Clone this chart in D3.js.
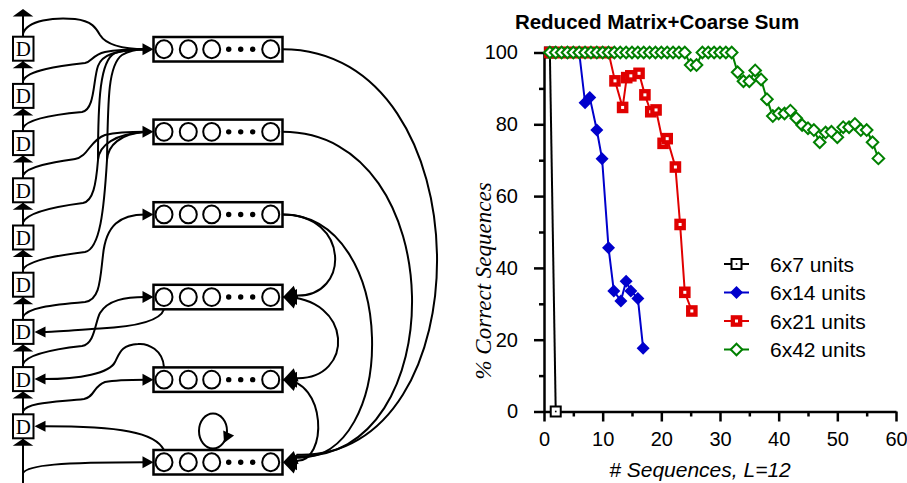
<!DOCTYPE html>
<html><head><meta charset="utf-8">
<script src="https://cdn.jsdelivr.net/npm/d3@7"></script>
<style>body{margin:0;background:#fff}svg{display:block}</style>
</head><body>
<svg id="c" width="907" height="483"></svg>
<script>
// ---------------- DATA ----------------
const chartTitle = "Reduced Matrix+Coarse Sum";
const seriesNames = ["6x7 units", "6x14 units", "6x21 units", "6x42 units"];
const xTicks = [0, 10, 20, 30, 40, 50, 60];
const yTicks = [0, 20, 40, 60, 80, 100];
const x7 = [1, 2];
const y7 = [100, 0];
const x14 = [1, 2, 3, 4, 5, 6, 7, 7.8, 9, 9.9, 11, 11.9, 13.1, 14, 14.8, 16, 16.9];
const y14 = [100, 100, 100, 100, 100, 100, 86, 87.5, 78.4, 70.4, 45.6, 33.6, 30.8, 36.3, 33.6, 31.5, 17.6];
const x21 = [1, 2, 3, 4, 5, 6, 7, 8, 9, 10, 11, 12.1, 13.4, 14.1, 14.8, 16.2, 17.2, 18.2, 19.1, 20.3, 21, 22.4, 23.2, 24, 25.2];
const y21 = [100, 100, 100, 100, 100, 100, 100, 100, 100, 100, 100, 92.1, 84.7, 93, 93.5, 94.2, 88.2, 83.5, 84, 74.7, 76, 68.1, 52.1, 33.2, 28];
const x42 = [1, 2, 3, 4, 5, 6, 7, 8, 9, 10, 11, 12, 13, 14, 15, 16, 17, 18, 19, 20, 21, 22, 23, 24, 25, 26, 27, 28, 29, 30,
             31, 32, 33, 34, 35, 36, 37, 38, 39, 40, 41, 42, 43, 44, 45, 46, 47, 48, 49, 50, 51, 52, 53, 54, 55, 56, 57];
const y42 = [100, 100, 100, 100, 100, 100, 100, 100, 100, 100, 100, 100, 100, 100, 100, 100, 100, 100, 100, 100, 100, 100, 100, 100,
             96.5, 96.5, 100, 100, 100, 100, 100, 100,
             94.5, 92, 92, 95, 92.5, 87, 82.3, 83, 83, 83.8, 81.7, 79.8, 78.9, 78.4, 75, 77.7, 77.9, 76.4, 79.2, 79.2, 80.1, 78.4, 78.4, 75, 70.5];

// --------------- CHART ----------------
const svg = d3.select("#c");
const x = d3.scaleLinear().domain([0, 60]).range([544, 896]);
const y = d3.scaleLinear().domain([0, 100]).range([411.5, 52.5]);
const SANS = "'Liberation Sans', Arial, Helvetica, sans-serif";
const SERIF = "'Liberation Serif', 'Times New Roman', Times, serif";

const chart = svg.append("g");
const minorX = d3.range(5, 60, 10), minorY = d3.range(10, 100, 20);

function styleAxis(g) {
  g.selectAll("path.domain").attr("stroke", "#000").attr("stroke-width", 2.5);
  g.selectAll(".tick line").attr("stroke", "#000").attr("stroke-width", 2.5);
  g.selectAll(".tick text").attr("font-family", SANS).attr("font-size", 20).attr("fill", "#000");
}
const gxm = chart.append("g").attr("transform", `translate(0,${y(0)})`)
  .call(d3.axisBottom(x).tickValues(minorX).tickSize(5).tickFormat(""));
gxm.select(".domain").remove(); styleAxis(gxm);
const gym = chart.append("g").attr("transform", `translate(${x(0)},0)`)
  .call(d3.axisLeft(y).tickValues(minorY).tickSize(5).tickFormat(""));
gym.select(".domain").remove(); styleAxis(gym);
const gx = chart.append("g").attr("transform", `translate(0,${y(0)})`)
  .call(d3.axisBottom(x).tickValues(xTicks).tickSize(10).tickSizeOuter(0).tickPadding(10));
styleAxis(gx);
const gy = chart.append("g").attr("transform", `translate(${x(0)},0)`)
  .call(d3.axisLeft(y).tickValues(yTicks).tickSize(10).tickSizeOuter(0).tickPadding(16));
styleAxis(gy);

chart.append("text").attr("x", 657).attr("y", 29).attr("text-anchor", "middle")
  .attr("font-family", SANS).attr("font-weight", "bold").attr("font-size", 20.5).text(chartTitle);
chart.append("text").attr("x", 700).attr("y", 477).attr("text-anchor", "middle")
  .attr("font-family", SANS).attr("font-style", "italic").attr("font-size", 21).text("# Sequences, L=12");
chart.append("text").attr("transform", "translate(491,281) rotate(-90)").attr("text-anchor", "middle")
  .attr("font-family", SERIF).attr("font-style", "italic").attr("font-size", 23).text("% Correct Sequences");

const colors = ["#000000", "#0000cc", "#e00000", "#008000"];
const series = [
  {xs: x7, ys: y7}, {xs: x14, ys: y14}, {xs: x21, ys: y21}, {xs: x42, ys: y42}
];
const line = d3.line().x(d => x(d[0])).y(d => y(d[1]));

function marker(g, k, cx, cy) {
  if (k === 0) {
    g.append("rect").attr("x", cx - 5).attr("y", cy - 5).attr("width", 10).attr("height", 10)
      .attr("fill", "#fff").attr("stroke", "#000").attr("stroke-width", 2);
    g.append("rect").attr("x", cx - 0.8).attr("y", cy - 0.8).attr("width", 1.6).attr("height", 1.6).attr("fill", "#000");
  } else if (k === 1) {
    g.append("path").attr("d", `M${cx},${cy - 6.5}L${cx + 6.5},${cy}L${cx},${cy + 6.5}L${cx - 6.5},${cy}Z`)
      .attr("fill", colors[1]);
  } else if (k === 2) {
    g.append("rect").attr("x", cx - 5.8).attr("y", cy - 5.8).attr("width", 11.6).attr("height", 11.6).attr("fill", colors[2]);
    g.append("rect").attr("x", cx - 1.5).attr("y", cy - 1.5).attr("width", 3).attr("height", 3).attr("fill", "#fff");
  } else {
    g.append("path").attr("d", `M${cx},${cy - 5.8}L${cx + 5.8},${cy}L${cx},${cy + 5.8}L${cx - 5.8},${cy}Z`)
      .attr("fill", "#fff").attr("stroke", colors[3]).attr("stroke-width", 2);
  }
}

series.forEach((s, k) => {
  const pts = s.xs.map((v, i) => [v, s.ys[i]]);
  const g = chart.append("g");
  g.append("path").attr("d", line(pts)).attr("fill", "none").attr("stroke", colors[k]).attr("stroke-width", 2);
  pts.forEach(p => marker(g, k, x(p[0]), y(p[1])));
});

// legend
const legY = [264, 292.5, 321, 349.5];
seriesNames.forEach((name, k) => {
  const g = chart.append("g");
  g.append("line").attr("x1", 724).attr("x2", 749).attr("y1", legY[k]).attr("y2", legY[k])
    .attr("stroke", colors[k]).attr("stroke-width", 2);
  marker(g, k, 736.5, legY[k]);
  g.append("text").attr("x", 770).attr("y", legY[k] + 7.5).attr("font-family", SANS).attr("font-size", 21).text(name);
});

// --------------- DIAGRAM ----------------
const dia = svg.append("g").attr("fill", "none").attr("stroke", "#000").attr("stroke-width", 2);
const LX = 23;                       // delay line x
const dTops = d3.range(9).map(i => 36.7 + 47.2 * i);
const dH = 24, dW = 20.5;
const mTops = d3.range(6).map(i => 37 + 82.6 * i);
const mH = 24.5, mX0 = 153.5, mX1 = 282.5;
const mC = mTops.map(t => t + mH / 2);

function head(tx, ty, ang, len, hw) {
  const a = ang * Math.PI / 180, c = Math.cos(a), s = Math.sin(a);
  const bx = tx - len * c, by = ty - len * s;
  svg.append("path")
    .attr("d", `M${tx},${ty}L${bx - hw * s},${by + hw * c}L${bx + hw * s},${by - hw * c}Z`)
    .attr("fill", "#000");
}
function curve(d) { dia.append("path").attr("d", d); }

// vertical delay line
curve(`M${LX},483L${LX},12`);
head(LX, 9, -90, 7.5, 10.3);
dTops.forEach(t => head(LX, t + dH + 0.5, -90, 7, 10.3));

// D -> module curves
const s = dTops.map(t => t - 3);
curve(`M${LX},${s[0]}C27,20 55,17 75,19C92,21 96,28 100,35C105,43 118,49 ${mX0 - 8},${mC[0]}`);
curve(`M${LX},${s[1]}C27,70 60,66 85,63C92,62 92,55 105,52C115,50 130,${mC[0]} ${mX0 - 8},${mC[0]}`);
curve(`M${LX},${s[2]}C27,118 60,114 82,112C95,110 93,80 98,66C102,55 115,50 ${mX0 - 8},${mC[0]}`);
curve(`M${LX},${s[3]}C27,166 55,162 75,159C88,157 90,140 105,135C118,132 132,${mC[1]} ${mX0 - 8},${mC[1]}`);
curve(`M${LX},${s[4]}C27,212 60,206 83,203C93,201 96,185 98,160C99,145 115,134 ${mX0 - 8},${mC[1]}`);
curve(`M98,160C98,100 100,60 115,53C125,50 135,${mC[0]} ${mX0 - 8},${mC[0]}`);
curve(`M${LX},${s[5]}C27,260 60,255 85,252C100,249 104,210 107,160C108,145 120,134 ${mX0 - 8},${mC[1]}`);
curve(`M107,160C108,100 108,65 122,55C130,50 138,${mC[0]} ${mX0 - 8},${mC[0]}`);
curve(`M${LX},${s[6]}C27,308 50,305 85,302C100,300 100,280 103,255C106,225 120,${mC[2]} ${mX0 - 8},${mC[2]}`);
curve(`M${LX},${s[7]}C27,354 55,349 82,346C95,344 95,322 100,313C108,300 125,${mC[3]} ${mX0 - 8},${mC[3]}`);
curve(`M${LX},${s[8]}C27,402 60,402 84,399C95,397 93,386 105,382C115,380 130,${mC[4]} ${mX0 - 8},${mC[4]}`);
curve(`M${LX},473C28,465 60,${mC[5]} ${mX0 - 8},${mC[5]}`);
mC.forEach(c => head(mX0, c, 0, 11, 6));

// module -> D curves
const c1 = 164;
curve(`M${c1},${mTops[3] + mH}C160,322 130,327 100,328.5C75,330 55,${dTops[6] + 12} 44,${dTops[6] + 12}`);
curve(`M${c1},${mTops[4]}C163,350 148,343 138,344C122,345 120,352 115,362C110,373 80,${dTops[7] + 12} 44,${dTops[7] + 12}`);
curve(`M${c1},${mTops[5]}C155,432 120,${dTops[8] + 12} 44,${dTops[8] + 12}`);
[6, 7, 8].forEach(i => head(34.5, dTops[i] + 12, 180, 11, 5.5));

// self loop
dia.append("ellipse").attr("cx", 213).attr("cy", 431).attr("rx", 14).attr("ry", 17.5);
head(224, 443, 115, 11, 6);

// module -> module arcs on the right
const arcs = [[0, 5, 437], [1, 5, 412], [2, 5, 372], [2, 3, 335], [3, 4, 338], [4, 5, 318]];
arcs.forEach(([a, b, px]) => {
  const ctl = (px - 0.125 * mX1 - 0.125 * (mX1 + 14)) / 0.75;
  const ya = mC[a], yb = mC[b];
  curve(`M${mX1},${ya}C${ctl},${ya} ${ctl},${yb} ${mX1 + 14},${yb - (b - a) * 1.5}`);
});
[3, 4, 5].forEach(b => { head(mX1 + 0.5, mC[b], 180, 14, 8); head(mX1 + 0.5, mC[b], 200, 14, 7); head(mX1 + 0.5, mC[b], 160, 14, 7); });

// D boxes
dTops.forEach(t => {
  svg.append("rect").attr("x", 13).attr("y", t).attr("width", dW).attr("height", dH)
    .attr("fill", "#fff").attr("stroke", "#000").attr("stroke-width", 2);
  svg.append("text").attr("x", 13 + dW / 2).attr("y", t + 19.5).attr("text-anchor", "middle")
    .attr("font-family", SERIF).attr("font-size", 21).text("D");
});
// module boxes
mTops.forEach(t => {
  const g = svg.append("g");
  g.append("rect").attr("x", mX0).attr("y", t).attr("width", mX1 - mX0).attr("height", mH)
    .attr("fill", "#fff").attr("stroke", "#000").attr("stroke-width", 2.5);
  [164, 188.3, 211.7, 270.7].forEach(cx => g.append("ellipse").attr("cx", cx).attr("cy", t + mH / 2)
    .attr("rx", 8.5).attr("ry", 8.9).attr("fill", "#fff").attr("stroke", "#000").attr("stroke-width", 2));
  [228.7, 240.7, 252.7].forEach(cx => g.append("circle").attr("cx", cx).attr("cy", t + mH / 2).attr("r", 2.7).attr("fill", "#000"));
});
</script>
</body></html>
